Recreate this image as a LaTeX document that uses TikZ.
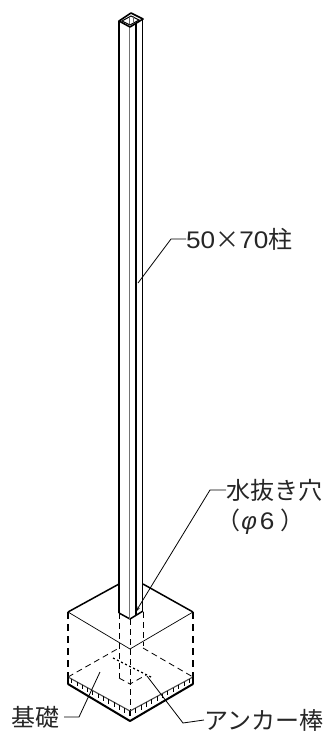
\documentclass[tikz,border=0pt]{standalone}
\usepackage{fontspec}
\setmainfont{Noto Sans CJK JP}
\newfontfamily\latinf[FakeStretch=1.09]{Liberation Sans}
\newfontfamily\phif[FakeSlant=0.2]{Liberation Sans}
\usetikzlibrary{arrows.meta,calc}
\tikzset{
 x=1pt,y=-1pt,
 thickl/.style={line width=1.5pt,black},
 thinl/.style={line width=0.7pt,black},
 hid/.style={line width=0.8pt,dash pattern=on 6pt off 4pt},
 hidthick/.style={line width=1.4pt,dash pattern=on 7pt off 5pt},
 leader/.style={line width=0.8pt},
 lab/.style={font=\fontsize{24}{28}\selectfont,inner sep=0pt,anchor=west,text=black!85},
}
\begin{document}
\begin{tikzpicture}
\useasboundingbox (0,0) rectangle (327,732);
\fill[white] (0,0) rectangle (327,732);
% coordinates
\coordinate (bL) at (68,612);\coordinate (bR) at (193,612);\coordinate (bF) at (130,649);
\coordinate (pL) at (119,584);\coordinate (pR) at (143,584);
\coordinate (gL) at (68,677);\coordinate (gR) at (193,677);\coordinate (gF) at (130,711);
\coordinate (hL) at (68,684);\coordinate (hR) at (193,684);\coordinate (hF) at (130,721);
\coordinate (kL) at (68,681);\coordinate (kR) at (193,681);\coordinate (kF) at (130,716);
% base top
\draw[thickl] (bL)--(pL) (bR)--(pR);
\draw[thinl] (bL)--(bF)--(bR);
% vertical corners
\draw[hidthick] (bL)--(gL) (bR)--(gR);
\draw[hid] (gL)--(119,648) (143,648)--(gR);
\draw[hid] (119,613)--(119,678) (130,619)--(130,711) (143,612)--(143,646);
\draw[hid] (119,678)--(130,684)--(146,675);
\draw[line width=1.3pt,dash pattern=on 2pt off 2.5pt] (113,658)--(153,678);
% hatch band
\draw[line width=1.1pt,black!70] (gL)--(gF)--(gR);
\draw[line width=2pt,line join=round,line cap=round] (hL)--(hF)--(hR);
\draw[line width=1.1pt] (gL)--(hL) (gR)--(hR);
\foreach \t in {0.06,0.145,...,1}{
 \draw[line width=0.7pt] ($(gL)!\t!(gF)$)--($(kL)!\t!(kF)$);
 \draw[line width=0.7pt] ($(gR)!\t!(gF)$)--($(kR)!\t!(kF)$);
}
% post
\fill[white] (119,21)--(130,27)--(142,19)--(142,612)--(130,619)--(119,613)--cycle;
\draw[thickl] (119,21)--(119,613);
\draw[thickl,line join=round] (119,613)--(130,619)--(143,611);
\draw[line width=1.6pt,black!55] (129.5,27)--(129.5,619);
\draw[line width=1.6pt] (136,23)--(136,615);
\draw[line width=1.3pt] (142.5,19)--(142.5,611);
\draw[line width=1.6pt,line join=round] (119,21)--(131,13)--(143,19)--(130,27)--cycle;
\draw[line width=1pt] (122,21)--(131,16)--(139,20)--(130,25)--cycle;
\draw[line width=0.8pt,black!60] (129,17)--(129,24) (133,16)--(133,23);
% leaders
\node[lab] (t1) at (186,239) {{\latinf 50}×{\latinf 70}柱};
\node[lab] (t2) at (226,490) {水抜き穴};
\node[lab] (t3) at (216,522) {（{\phif φ}\kern4pt{\latinf 6}\kern6pt）};
\node[lab] (t4) at (11,717) {基礎};
\node[lab] (t5) at (204,720) {アンカー棒};
\coordinate (a1) at (138,283);
\coordinate (a2) at (135,613);
\coordinate (a3) at (100,672);
\coordinate (a4) at (147,676);
\draw[leader] (t1.west)--(171,239)--(a1);
\draw[leader,-{Stealth[length=7pt,width=3pt]}] (t2.west)--(210,490)--(a2);
\draw[leader] (64,717)--(79,717)--(a3);
\draw[leader] (t5.west)--(183,723)--(a4);
\end{tikzpicture}
\end{document}
